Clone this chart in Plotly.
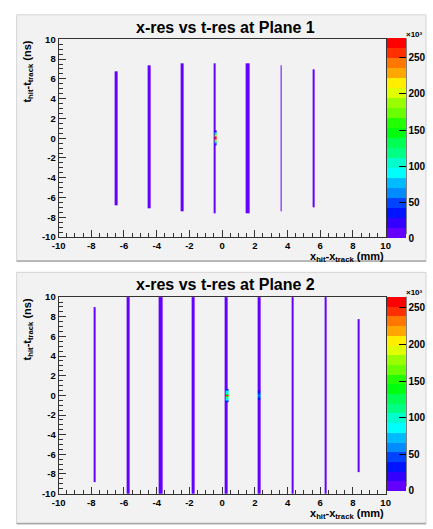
import colorsys
import numpy as np
import plotly.graph_objects as go

W, H = 433, 529

# ---------------- data (bin contents in units of 10^3 counts) ----------------
# Plane 1 stripes: x range (mm) and t range (ns)
p1_xlo = [-6.57, -4.56, -2.56, -0.53, 1.45, 3.57, 5.56]
p1_xhi = [-6.37, -4.36, -2.36, -0.37, 1.67, 3.65, 5.68]
p1_ylo = [-6.8, -7.1, -7.4, -7.6, -7.6, -7.4, -7.0]
p1_yhi = [6.8, 7.4, 7.6, 7.6, 7.6, 7.4, 7.0]
p1_level = 5.0
# Plane 1 hot spot
p1_hot_xlo = [-0.46]
p1_hot_xhi = [-0.33]
p1_hot_ystart = [-0.7]
p1_hot_z = [[20, 45, 80, 120, 170, 225, 265, 277, 255, 205, 150, 105, 70, 40, 18]]
p1_zmax = 277

# Plane 2 stripes
p2_xlo = [-7.83, -5.87, -3.86, -1.86, 0.15, 2.17, 4.27, 6.26, 8.28]
p2_xhi = [-7.73, -5.67, -3.66, -1.66, 0.35, 2.37, 4.39, 6.36, 8.40]
p2_ylo = [-8.8, -10, -10, -10, -10, -10, -10, -10, -7.8]
p2_yhi = [9.0, 10, 10, 10, 10, 10, 10, 10, 7.8]
p2_level = 5.0
# Plane 2 hot spots
p2_hot_xlo = [0.24, 2.17]
p2_hot_xhi = [0.37, 2.37]
p2_hot_ystart = [-0.7, -0.5]
p2_hot_z = [[30, 60, 85, 95, 100, 150, 265, 140, 100, 95, 85, 60, 30],
            [20, 35, 45, 50, 55, 50, 45, 35, 20, 15]]
p2_zmax = 265

x_ticks = [-10, -8, -6, -4, -2, 0, 2, 4, 6, 8, 10]
y_ticks = [-10, -8, -6, -4, -2, 0, 2, 4, 6, 8, 10]
z_ticks = [0, 50, 100, 150, 200, 250]

titles = ["x-res vs t-res at Plane 1", "x-res vs t-res at Plane 2"]
x_title = "x<sub>hit</sub>-x<sub>track</sub> (mm)"
y_title = "t<sub>hit</sub>-t<sub>track</sub> (ns)"

# ---------------- helpers ----------------
YBW = 0.1
y_edges = np.round(np.arange(-10, 10 + YBW / 2, YBW), 3)
y_cent = (y_edges[:-1] + y_edges[1:]) / 2


def build(xlo, xhi, ylo, yhi, level, hxlo, hxhi, hys, hz):
    edges = sorted(set([-10.0, 10.0] + list(xlo) + list(xhi) + list(hxlo) + list(hxhi)))
    edges = np.array(edges)
    ncol = len(edges) - 1
    z = np.full((len(y_cent), ncol), np.nan)
    for c in range(ncol):
        mid = 0.5 * (edges[c] + edges[c + 1])
        for a, b, lo, hi in zip(xlo, xhi, ylo, yhi):
            if a <= mid < b:
                m = (y_cent >= lo) & (y_cent <= hi)
                z[m, c] = level
        for a, b, ys, vals in zip(hxlo, hxhi, hys, hz):
            if a <= mid < b:
                for k, v in enumerate(vals):
                    yc = ys + (k + 0.5) * YBW
                    i = int(np.floor((yc + 10) / YBW))
                    if 0 <= i < len(y_cent):
                        z[i, c] = v if np.isnan(z[i, c]) else max(z[i, c], v)
    return edges, z


# ROOT "pretty" palette (palette 1) with 20 contour levels
def root_colors(nlev=20, ncol=50):
    cols = []
    for k in range(nlev):
        idx = int((k + 0.99) * ncol / nlev)
        hue = 280.0 - (idx + 1) * (280.0 / ncol)
        r, g, b = colorsys.hls_to_rgb(hue / 360.0, 0.5, 1.0)
        cols.append("rgb(%d,%d,%d)" % (round(r * 255), round(g * 255), round(b * 255)))
    return cols


cols = root_colors()
cscale = []
for k, c in enumerate(cols):
    cscale.append([k / 20, c])
    cscale.append([(k + 1) / 20, c])

FONT = "Liberation Sans, Arial, Helvetica, sans-serif"

# pixel geometry
fx0, fx1 = 53.3, 391.3
frames = [(34, 236), (297.3, 498)]
cbars = [(33, 233), (297, 490.7)]
pads = [(9, 261), (272, 529)]


def px(x):
    return x / W


def py(y):
    return 1 - y / H


fig = go.Figure()
datasets = [
    (p1_xlo, p1_xhi, p1_ylo, p1_yhi, p1_level, p1_hot_xlo, p1_hot_xhi, p1_hot_ystart, p1_hot_z, p1_zmax),
    (p2_xlo, p2_xhi, p2_ylo, p2_yhi, p2_level, p2_hot_xlo, p2_hot_xhi, p2_hot_ystart, p2_hot_z, p2_zmax),
]

shapes = []
annotations = []
for i, d in enumerate(datasets):
    xe, z = build(*d[:9])
    zmax = d[9]
    cb_top, cb_bot = cbars[i]
    fig.add_trace(go.Heatmap(
        x=xe, y=y_edges, z=z,
        zmin=0, zmax=zmax, colorscale=cscale,
        xaxis="x" if i == 0 else "x2", yaxis="y" if i == 0 else "y2",
        hoverongaps=False,
        colorbar=dict(
            x=px(393), xanchor="left", xpad=0, ypad=0,
            y=py(cb_top), yanchor="top",
            len=cb_bot - cb_top, lenmode="pixels",
            thickness=19, thicknessmode="pixels",
            outlinewidth=0,
            tickvals=z_ticks, ticktext=[str(v) for v in z_ticks],
            ticks="inside", ticklen=7, tickcolor="#000", tickwidth=1,
            tickfont=dict(family=FONT, size=10, color="#000", weight="bold"),
        ),
    ))
    pt, pb = pads[i]
    shapes.append(dict(type="rect", xref="paper", yref="paper", layer="below",
                       x0=px(10), x1=1, y0=py(pb), y1=py(pt),
                       fillcolor="#f2f2f2", line=dict(color="#d4d4d4", width=1)))
    shapes.append(dict(type="line", xref="paper", yref="paper",
                       x0=px(10), x1=1, y0=py(pb - 0.5), y1=py(pb - 0.5),
                       line=dict(color="#a8a8a8", width=1.5)))
    shapes.append(dict(type="line", xref="paper", yref="paper",
                       x0=px(412.3), x1=px(412.3), y0=py(cb_bot), y1=py(cb_top),
                       line=dict(color="#000", width=1)))
    ft, fb = frames[i]
    annotations.append(dict(text="<b>%s</b>" % titles[i], xref="paper", yref="paper",
                            x=px(225.5), y=py(ft - 12.5), xanchor="center", yanchor="middle",
                            showarrow=False, font=dict(family=FONT, size=16, color="#000")))
    annotations.append(dict(text="<b>%s</b>" % y_title, xref="paper", yref="paper",
                            x=px(22), y=py(ft - 1), xanchor="center", yanchor="top",
                            textangle=-90, showarrow=False,
                            font=dict(family=FONT, size=11, color="#000")))
    annotations.append(dict(text="<b>%s</b>" % x_title, xref="paper", yref="paper",
                            x=px(391.5), y=py(fb + 11.5), xanchor="right", yanchor="top",
                            showarrow=False, font=dict(family=FONT, size=11, color="#000")))
    annotations.append(dict(text="<b>×10³</b>", xref="paper", yref="paper",
                            x=px(421), y=py(cb_top - 4), xanchor="center", yanchor="middle",
                            showarrow=False, font=dict(family=FONT, size=8, color="#000")))

tickfont = dict(family=FONT, size=9.5, color="#000", weight="bold")


def xax(dom_anchor):
    return dict(domain=[px(fx0), px(fx1)], range=[-10, 10], anchor=dom_anchor,
                tickvals=x_ticks, ticktext=[str(v) for v in x_ticks],
                ticks="inside", ticklen=7, tickcolor="#333", tickwidth=1,
                minor=dict(dtick=0.5, tick0=-10, ticks="inside", ticklen=4, tickcolor="#333"),
                showline=True, mirror=True, linecolor="#333", linewidth=1,
                showgrid=False, zeroline=False, tickfont=tickfont, fixedrange=True)


def yax(ft, fb, dom_anchor):
    return dict(domain=[py(fb), py(ft)], range=[-10, 10], anchor=dom_anchor,
                tickvals=y_ticks, ticktext=[str(v) for v in y_ticks],
                ticks="inside", ticklen=7, tickcolor="#333", tickwidth=1,
                minor=dict(dtick=0.5, tick0=-10, ticks="inside", ticklen=4, tickcolor="#333"),
                showline=True, mirror=True, linecolor="#333", linewidth=1,
                showgrid=False, zeroline=False, tickfont=tickfont, fixedrange=True)


fig.update_layout(
    width=W, height=H, margin=dict(l=0, r=0, t=0, b=0),
    paper_bgcolor="#ffffff", plot_bgcolor="#f2f2f2",
    xaxis=xax("y"), yaxis=yax(frames[0][0], frames[0][1], "x"),
    xaxis2=xax("y2"), yaxis2=yax(frames[1][0], frames[1][1], "x2"),
    shapes=shapes, annotations=annotations, showlegend=False,
)

fig.write_html("out.html")
